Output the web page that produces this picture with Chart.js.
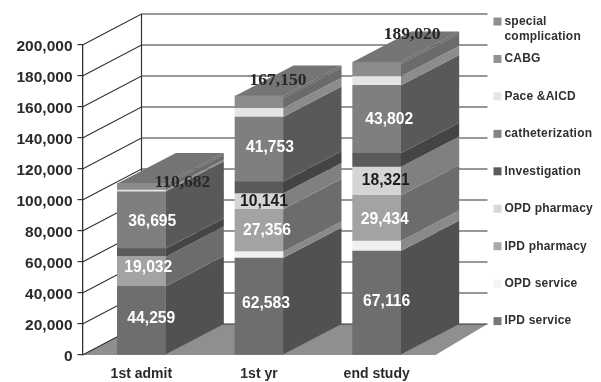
<!DOCTYPE html>
<html>
<head>
<meta charset="utf-8">
<title>Cost by period</title>
<script src="https://cdn.jsdelivr.net/npm/chart.js@4"></script>
<style>
  html, body { margin: 0; padding: 0; background: #fff; }
  canvas { display: block; }
</style>
</head>
<body>
<canvas id="costChart" width="601" height="382"></canvas>
<script>
const categories = ["1st admit", "1st yr", "end study"];
const yTicks = [0, 20000, 40000, 60000, 80000, 100000, 120000, 140000, 160000, 180000, 200000];

const seriesNames = ["IPD service", "OPD service", "IPD pharmacy", "OPD pharmacy", "Investigation",
    "catheterization", "Pace &AICD", "CABG", "special complication"];

const ipdService = [44259, 62583, 67116];
const opdService = [0, 4070, 6430];
const ipdPharmacy = [19032, 27356, 29434];
const opdPharmacy = [0, 10141, 18321];
const investigation = [5300, 7650, 8800];
const catheterization = [36695, 41753, 43802];
const paceAicd = [1100, 5600, 5700];
const cabg = [3000, 6500, 7900];
const specialComplication = [1296, 1497, 1517];

const seriesValues = [ipdService, opdService, ipdPharmacy, opdPharmacy, investigation,
    catheterization, paceAicd, cabg, specialComplication];

const frontColors = ["#6e6e70", "#f0f0f0", "#a3a3a5", "#d5d5d7", "#5a5a5c", "#7f7f81", "#e5e5e7", "#8c8c8e", "#8a8a8c"];
const sideColors = ["#515153", "#8a8a8c", "#6c6c6e", "#808082", "#444446", "#59595b", "#8c8c8e", "#6b6b6d", "#6b6b6d"];
const swatchColors = ["#77777a", "#f3f3f3", "#a8a8aa", "#d8d8da", "#5a5a5c", "#858587", "#e5e5e7", "#919193", "#8f8f91"];

// only segments this big get a value printed on them
const minLabelled = 10000;
const darkLabels = [3];

// label nudges in px, per series then per bar
const labelShift = {
    0: [[10, -2], [7, -2.5], [10, -1]],
    2: [[7, -4], [8, 0], [8, 1]],
    3: [[0, 0], [5, 0.5], [9, -1]],
    5: [[11, 1], [11, -1.4], [12.5, 0.6]]
};
const totalShift = [[41, -1.4], [19, -15], [35.5, -28]];

const depthX = 58.5;
const depthY = 30.5;

function face(ctx, pts, color) {
    ctx.fillStyle = color;
    ctx.beginPath();
    pts.forEach((p, i) => i ? ctx.lineTo(p[0], p[1]) : ctx.moveTo(p[0], p[1]));
    ctx.closePath();
    ctx.fill();
}

const box3d = {
    id: "box3d",
    beforeDatasetsDraw(chart) {
        const { ctx, scales } = chart;
        const y = scales.y;
        const left = scales.x.left;
        const right = scales.x.right;
        const bottom = y.getPixelForValue(0);
        const backLeft = left + 59;
        const backRight = right + 52;

        ctx.save();

        // floor
        face(ctx, [[left, bottom], [backLeft, bottom - 31], [backRight, bottom - 31], [right, bottom]], "#8f8f91");

        // back wall and the lines running along the side wall
        ctx.strokeStyle = "#333335";
        ctx.lineWidth = 1.2;
        yTicks.forEach(v => {
            const py = y.getPixelForValue(v);
            ctx.beginPath();
            ctx.moveTo(left, py);
            ctx.lineTo(backLeft, py - 31);
            ctx.lineTo(backRight, py - 31);
            ctx.stroke();
        });
        ctx.beginPath();
        ctx.moveTo(backLeft, y.getPixelForValue(200000) - 31);
        ctx.lineTo(backLeft, bottom - 31);
        ctx.stroke();

        // side and top of each stack
        chart.data.datasets.forEach((ds, i) => {
            chart.getDatasetMeta(i).data.forEach((bar) => {
                if (bar.base === bar.y) return;
                const r = bar.x + bar.width / 2;
                face(ctx, [[r, bar.base], [r, bar.y], [r + depthX, bar.y - depthY], [r + depthX, bar.base - depthY]], sideColors[i]);
            });
        });
        const top = chart.getDatasetMeta(seriesValues.length - 1).data;
        top.forEach(bar => {
            const l = bar.x - bar.width / 2;
            const r = bar.x + bar.width / 2;
            face(ctx, [[l, bar.y], [r, bar.y], [r + depthX, bar.y - depthY], [l + depthX, bar.y - depthY]], "#757577");
        });
        ctx.restore();
    },
    afterDatasetsDraw(chart) {
        const { ctx } = chart;
        ctx.save();
        ctx.textAlign = "center";
        ctx.textBaseline = "middle";

        // values on the segments
        ctx.font = "bold 15.7px 'Liberation Sans'";
        seriesValues.forEach((values, i) => {
            const bars = chart.getDatasetMeta(i).data;
            values.forEach((v, j) => {
                if (v < minLabelled) return;
                const shift = labelShift[i][j];
                ctx.fillStyle = darkLabels.includes(i) ? "#1c1c1e" : "#ffffff";
                ctx.fillText(v.toLocaleString("en-US"), bars[j].x + shift[0], (bars[j].y + bars[j].base) / 2 + shift[1]);
            });
        });

        // stack totals
        ctx.font = "bold 17.5px 'Liberation Serif'";
        ctx.fillStyle = "#262628";
        const topBars = chart.getDatasetMeta(seriesValues.length - 1).data;
        categories.forEach((c, j) => {
            const total = seriesValues.reduce((sum, values) => sum + values[j], 0);
            ctx.fillText(total.toLocaleString("en-US"), topBars[j].x + totalShift[j][0], topBars[j].y + totalShift[j][1]);
        });

        // legend, top entry first
        ctx.textAlign = "left";
        ctx.font = "bold 12px 'Liberation Sans'";
        ctx.letterSpacing = "0.2px";
        seriesNames.slice().reverse().forEach((name, k) => {
            const i = seriesNames.length - 1 - k;
            const ly = 21.5 + k * 37.45;
            ctx.fillStyle = swatchColors[i];
            ctx.fillRect(493.5, ly - 4, 8, 8);
            ctx.fillStyle = "#303032";
            const lines = name.length > 16 ? name.split(" ") : [name];
            lines.forEach((line, n) => ctx.fillText(line, 504.5, ly + n * 15.2));
        });
        ctx.restore();
    }
};

new Chart(document.getElementById("costChart"), {
    type: "bar",
    data: {
        labels: categories,
        datasets: seriesNames.map((name, i) => ({
            label: name,
            data: seriesValues[i],
            backgroundColor: frontColors[i],
            barThickness: 48
        }))
    },
    options: {
        responsive: false,
        animation: false,
        layout: { padding: { left: 0, top: 45, right: 165.5, bottom: 0 } },
        plugins: {
            legend: { display: false },
            tooltip: { enabled: false }
        },
        scales: {
            x: {
                stacked: true,
                grid: { display: false },
                border: { display: false },
                ticks: {
                    color: "#2a2a2c",
                    padding: 3,
                    font: { family: "'Liberation Sans'", size: 14, weight: "bold" }
                },
                afterFit(scale) { scale.height = 27; }
            },
            y: {
                stacked: true,
                min: 0,
                max: 200000,
                afterBuildTicks(scale) { scale.ticks = yTicks.map(v => ({ value: v })); },
                grid: { drawOnChartArea: false, tickLength: 5, color: "#333335", lineWidth: 1.2 },
                border: { color: "#333335", width: 1.3 },
                ticks: {
                    color: "#2a2a2c",
                    padding: 5,
                    labelOffset: 2,
                    font: { family: "'Liberation Sans'", size: 15.5, weight: "bold" },
                    callback: v => v.toLocaleString("en-US")
                },
                afterFit(scale) { scale.width = 82.5; }
            }
        }
    },
    plugins: [box3d]
});
</script>
</body>
</html>
